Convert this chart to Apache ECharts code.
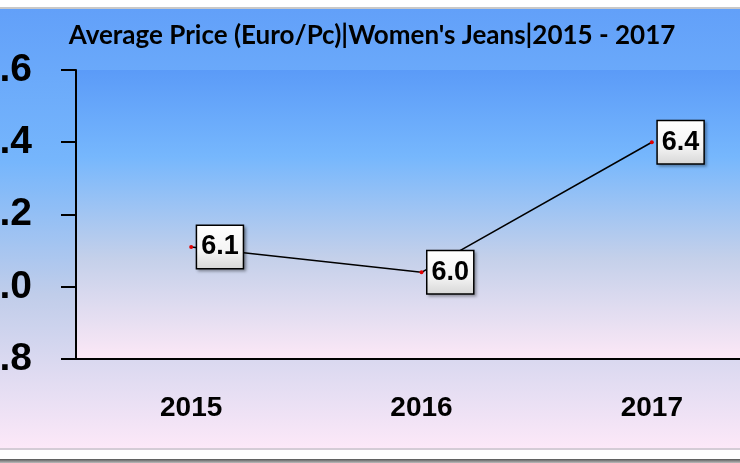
<!DOCTYPE html>
<html>
<head>
<meta charset="utf-8">
<script src="https://cdn.jsdelivr.net/npm/echarts@6/dist/echarts.min.js"></script>
<style>html,body{margin:0;padding:0;background:#fff}#c{width:740px;height:463px}</style>
</head>
<body>
<div id="c"></div>
<script>
const titleText = "Average Price (Euro/Pc)|Women's Jeans|2015 - 2017";
const years = ["2015", "2016", "2017"];
const avgPrice = [6.11, 6.04, 6.40];
const yMin = 5.8, yMax = 6.6, yStep = 0.2;

const chart = echarts.init(document.getElementById('c'));
chart.setOption({
  animation: false,
  backgroundColor: '#ffffff',
  graphic: [
    { type: 'rect', z: -10, shape: { x: 0, y: 9, width: 740, height: 439 },
      style: { fill: new echarts.graphic.LinearGradient(0, 0, 0, 1, [
        { offset: 0, color: '#62a0f9' },
        { offset: 0.35, color: '#76b6fc' },
        { offset: 0.65, color: '#c0cdea' },
        { offset: 1, color: '#fce8f8' }]) } },
    { type: 'rect', z: -9, shape: { x: 0, y: 7, width: 740, height: 2 }, style: { fill: '#c8c8c8' } },
    { type: 'rect', z: -9, shape: { x: 0, y: 448, width: 740, height: 2 }, style: { fill: '#d4ccd6' } },
    { type: 'rect', z: -9, shape: { x: 0, y: 459, width: 740, height: 4 },
      style: { fill: new echarts.graphic.LinearGradient(0, 0, 0, 1, [
        { offset: 0, color: '#555555' }, { offset: 1, color: '#bbbbbb' }]) } }
  ],
  title: {
    text: titleText, left: 367, textAlign: 'center', top: 18,
    textStyle: { fontFamily: 'Lato', fontWeight: 'bold', fontSize: 26, color: '#000' }
  },
  grid: {
    left: 76, right: -27, top: 70, bottom: 104, show: true, borderWidth: 0,
    containLabel: false, outerBoundsMode: 'none',
    backgroundColor: new echarts.graphic.LinearGradient(0, 0, 0, 1, [
      { offset: 0, color: '#5b9bf8' },
      { offset: 0.3, color: '#76b7fd' },
      { offset: 0.65, color: '#c4d0ea' },
      { offset: 1, color: '#fce8f6' }])
  },
  xAxis: {
    type: 'category', data: years, boundaryGap: true,
    axisLine: { lineStyle: { color: '#000', width: 2 } },
    axisTick: { show: false },
    axisLabel: { margin: 35, fontFamily: 'Liberation Sans', fontWeight: 'bold', fontSize: 28, color: '#000' }
  },
  yAxis: {
    type: 'value', min: yMin, max: yMax, interval: yStep,
    splitLine: { show: false },
    axisLine: { show: true, lineStyle: { color: '#000', width: 2 } },
    axisTick: { show: true, length: 15, lineStyle: { color: '#000', width: 2 } },
    axisLabel: { margin: 44, fontFamily: 'Liberation Sans', fontWeight: 'bold', fontSize: 39, color: '#000',
      formatter: v => v.toFixed(1) }
  },
  series: [{
    type: 'line', data: avgPrice,
    symbol: 'circle', symbolSize: 4,
    itemStyle: { color: '#e00000' },
    lineStyle: { color: '#000', width: 1.5 },
    label: {
      show: true, position: 'right', distance: 4,
      formatter: p => p.value.toFixed(1),
      fontFamily: 'Liberation Sans', fontWeight: 'bold', fontSize: 27, color: '#000',
      lineHeight: 30, padding: [7, 4, 5, 4],
      backgroundColor: new echarts.graphic.LinearGradient(0, 0, 0, 1, [
        { offset: 0, color: '#ffffff' }, { offset: 0.6, color: '#f4f4f4' }, { offset: 1, color: '#d6d6d6' }]),
      borderColor: '#000', borderWidth: 1.5,
      shadowColor: 'rgba(0,0,0,0.3)', shadowBlur: 3, shadowOffsetX: 2, shadowOffsetY: 2
    }
  }]
});
</script>
</body>
</html>
